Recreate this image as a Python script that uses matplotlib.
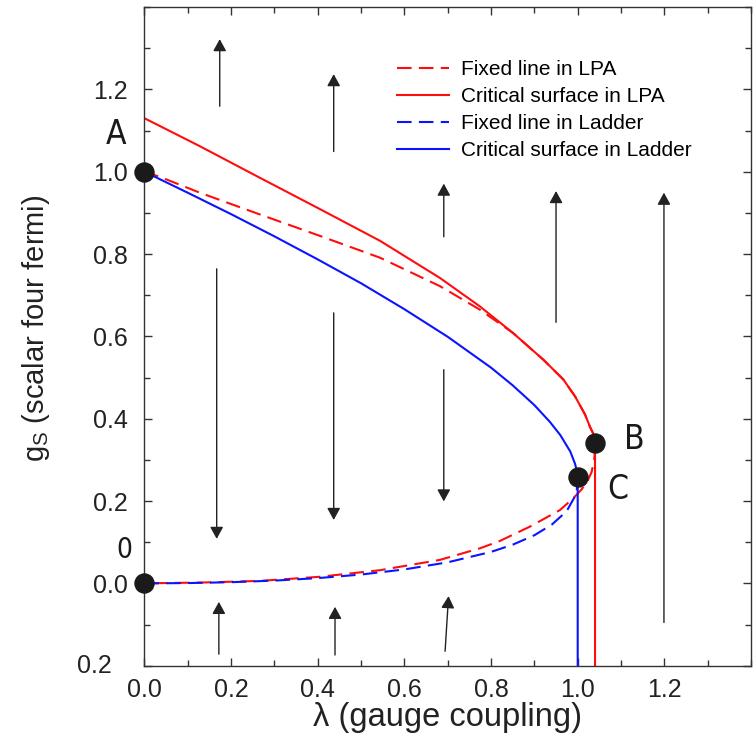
import matplotlib.pyplot as plt
from matplotlib.ticker import MultipleLocator, FixedLocator

plt.rcParams['font.family'] = ['Liberation Sans', 'DejaVu Sans']

# fixed line in LPA: from A down to B and back to the origin
lpa_fixed_lam = [0.0, 0.037, 0.128, 0.267, 0.40, 0.544, 0.682, 0.774, 0.851, 0.921, 0.967,
                 0.994, 1.017, 1.028, 1.037, 1.040, 1.040, 1.038, 1.032, 1.021, 1.008,
                 0.990, 0.959, 0.890, 0.8205, 0.774, 0.682, 0.544, 0.405, 0.267, 0.134, 0.0]
lpa_fixed_g = [1.000, 0.987, 0.949, 0.896, 0.846, 0.791, 0.722, 0.665, 0.608, 0.543, 0.495,
               0.454, 0.410, 0.381, 0.361, 0.342, 0.325, 0.300, 0.270, 0.245, 0.227,
               0.207, 0.178, 0.138, 0.103, 0.085, 0.057, 0.032, 0.016, 0.006, 0.002, 0.0]

# critical surface in LPA: upper branch into B, then straight down
lpa_crit_lam = [0.0, 0.128, 0.267, 0.40, 0.544, 0.682, 0.774, 0.851, 0.921, 0.967,
                0.994, 1.017, 1.028, 1.037, 1.040, 1.040]
lpa_crit_g = [1.130, 1.062, 0.985, 0.912, 0.832, 0.742, 0.673, 0.608, 0.543, 0.495,
              0.454, 0.410, 0.381, 0.361, 0.342, -0.2]

# ladder: lower branch is the fixed line, upper branch + vertical is critical
lad_fixed_lam = [0.0, 0.1, 0.2, 0.3, 0.4, 0.5, 0.6, 0.7, 0.8, 0.85, 0.9, 0.94, 0.97,
                 0.977, 0.993, 0.9983, 1.0]
lad_fixed_g = [0.0, 0.0007, 0.0028, 0.0067, 0.0127, 0.0214, 0.0338, 0.0511, 0.0764,
               0.0939, 0.1169, 0.1425, 0.1709, 0.18, 0.21, 0.23, 0.25]
lad_crit_lam = [0.0, 0.1, 0.2, 0.3, 0.4, 0.5, 0.6, 0.7, 0.8, 0.85, 0.9, 0.936, 0.96,
                0.983, 0.994, 0.9985, 1.0, 1.0]
lad_crit_g = [1.0, 0.949, 0.897, 0.843, 0.787, 0.729, 0.666, 0.599, 0.524, 0.481, 0.433,
              0.392, 0.36, 0.32, 0.29, 0.27, 0.25, -0.2]

# special points
pt_names = ['A', '0', 'B', 'C']
pt_lam = [0.0, 0.0, 1.040, 1.0]
pt_g = [1.0, 0.0, 0.342, 0.258]
name_lam = [-0.065, -0.047, 1.13, 1.093]
name_g = [1.091, 0.081, 0.349, 0.229]
name_size = [24, 20, 24, 24]

# RG flow arrows: (lambda_tail, g_tail, lambda_tip, g_tip)
flow = [
    (0.174, 1.159, 0.174, 1.322),
    (0.437, 1.049, 0.437, 1.237),
    (0.691, 0.842, 0.691, 0.971),
    (0.950, 0.634, 0.950, 0.953),
    (1.199, -0.095, 1.199, 0.949),
    (0.167, 0.764, 0.167, 0.108),
    (0.437, 0.657, 0.437, 0.154),
    (0.691, 0.519, 0.691, 0.199),
    (0.172, -0.172, 0.172, -0.045),
    (0.440, -0.174, 0.440, -0.057),
    (0.694, -0.165, 0.702, -0.031),
]

yticks = [-0.2, 0.0, 0.2, 0.4, 0.6, 0.8, 1.0, 1.2]
ytick_labels = ['', '0.0', '0.2', '0.4', '0.6', '0.8', '1.0', '1.2']
xticks = [0.0, 0.2, 0.4, 0.6, 0.8, 1.0, 1.2]

fig = plt.figure(figsize=(7.54, 7.39), dpi=100)
ax = fig.add_axes([0.1914, 0.0992, 0.8047, 0.8913])

red, blue = '#ff0d0d', '#0a14ff'
dash = (7, 3.5)
ax.plot(lpa_fixed_lam, lpa_fixed_g, color=red, lw=1.5, dashes=dash, label='Fixed line in LPA')
ax.plot(lpa_crit_lam, lpa_crit_g, color=red, lw=1.5, label='Critical surface in LPA')
ax.plot(lad_fixed_lam, lad_fixed_g, color=blue, lw=1.5, dashes=dash, label='Fixed line in Ladder')
ax.plot(lad_crit_lam, lad_crit_g, color=blue, lw=1.5, label='Critical surface in Ladder')

for x0, y0, x1, y1 in flow:
    ax.annotate('', xy=(x1, y1), xytext=(x0, y0),
                arrowprops=dict(arrowstyle='-|>,head_length=0.4,head_width=0.22',
                                mutation_scale=18, color='#222222', lw=1.0,
                                shrinkA=0, shrinkB=0))

ax.plot(pt_lam, pt_g, 'o', ms=13.7, color='#1a1a1a', clip_on=False, zorder=5)
for s, x, y, fs in zip(pt_names, name_lam, name_g, name_size):
    ax.text(x, y, s, fontsize=fs, ha='center', va='center', color='#1a1a1a',
            family=['DejaVu Sans Condensed', 'Liberation Sans Narrow', 'DejaVu Sans'],
            stretch='condensed')

ax.set_xlim(0, 1.4)
ax.set_ylim(-0.2, 1.4)
ax.xaxis.set_major_locator(FixedLocator(xticks))
ax.xaxis.set_minor_locator(MultipleLocator(0.1))
ax.yaxis.set_major_locator(FixedLocator(yticks))
ax.set_yticklabels(ytick_labels)
ax.yaxis.set_minor_locator(MultipleLocator(0.1))
ax.tick_params(which='both', direction='in', top=True, right=True,
               width=1.0, color='#333333', labelsize=18, labelcolor='#222222')
ax.tick_params(which='major', length=6)
ax.tick_params(which='minor', length=4)
ax.tick_params(axis='x', pad=9)
ax.tick_params(axis='y', pad=12)
# bottom label of the g axis sits a little further out
ax.annotate('0.2', xy=(0, -0.2), xycoords=('axes fraction', 'data'),
            xytext=(-23.5, 0), textcoords='offset points', ha='right', va='center',
            fontsize=18, color='#222222')
for sp in ax.spines.values():
    sp.set_color('#333333')
    sp.set_linewidth(1.0)

ax.set_xlabel('\u03bb (gauge coupling)', fontsize=23.5, color='#222222', labelpad=0)
ax.set_ylabel('g$_\\mathregular{S}$ (scalar four fermi)', fontsize=21, color='#222222',
              labelpad=29)
ax.yaxis.label.set_y(0.512)

ax.legend(loc='upper left', bbox_to_anchor=(0.4165, 0.9195), frameon=False,
          fontsize=15, handlelength=2.5, handletextpad=0.55, labelspacing=0.39,
          borderaxespad=0, borderpad=0)

fig.savefig('out.png', dpi=100)
